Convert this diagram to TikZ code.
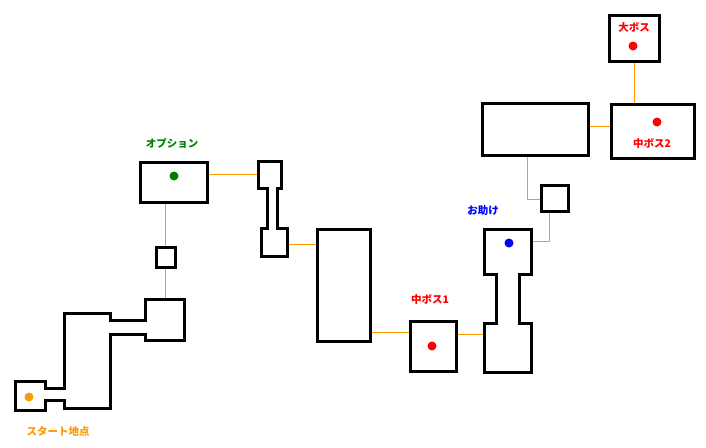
\documentclass[tikz,border=0pt]{standalone}
\usepackage{fontspec}
\setmainfont{Noto Sans CJK JP}
\usetikzlibrary{positioning}

\begin{document}
\begin{tikzpicture}[
  x=1pt, y=-1pt,
  room/.style={draw, line width=3pt},
  path/.style={draw=orange!80!yellow, line width=1pt},
  label/.style={font=\fontsize{10.5pt}{12pt}\selectfont\bfseries, inner sep=0pt},
  spot/.style={circle, fill, inner sep=0pt, minimum size=9pt}
]
    \useasboundingbox (0,0) rectangle (706,447);

    % connectors first
    \draw[path] (207,174) -- (258,174);
    \draw[path] (165,202) -- (165,247);
    \draw[path] (165,267) -- (165,299);
    \draw[path] (287,244) -- (317,244);
    \draw[path] (370,332) -- (410,332);
    \draw[path] (456,334) -- (484,334);
    \draw[path] (531,241) -- (549,241) -- (549,211);
    \draw[path] (541,199) -- (527,199) -- (527,155);
    \draw[path] (588,126) -- (611,126);
    \draw[path] (634,61) -- (634,103);

    % rooms
    \draw[room] (15,381) -- (45,381) -- (45,388) -- (64,388) -- (64,313)
      -- (110,313) -- (110,320) -- (145,320) -- (145,299) -- (184,299)
      -- (184,340) -- (145,340) -- (145,334) -- (110,334) -- (110,408)
      -- (64,408) -- (64,400) -- (45,400) -- (45,410) -- (15,410) -- cycle;
    \draw[room] (140,162) rectangle (207,202);
    \draw[room] (156,247) rectangle (175,267);
    \draw[room] (258,161) -- (281,161) -- (281,188) -- (277,188) -- (277,228)
      -- (287,228) -- (287,256) -- (261,256) -- (261,228) -- (267,228)
      -- (267,188) -- (258,188) -- cycle;
    \draw[room] (317,229) rectangle (370,341);
    \draw[room] (410,321) rectangle (456,371);
    \draw[room] (484,229) -- (531,229) -- (531,274) -- (519,274) -- (519,323)
      -- (531,323) -- (531,372) -- (484,372) -- (484,323) -- (496,323)
      -- (496,274) -- (484,274) -- cycle;
    \draw[room] (541,185) rectangle (568,211);
    \draw[room] (482,103) rectangle (588,155);
    \draw[room] (611,104) rectangle (694,158);
    \draw[room] (609,15) rectangle (659,61);

    % markers
    \node[spot, fill=orange!80!yellow] (start) at (29,397) {};
    \node[label, text=orange!80!yellow] (startlbl) at (58,431) {スタート地点};
    \node[spot, fill=green!50!black] (option) at (174,176) {};
    \node[label, text=green!50!black] (optionlbl) at (172,143) {オプション};
    \node[spot, fill=red] (midboss1) at (432,346) {};
    \node[label, text=red] (midboss1lbl) at (430,300) {中ボス1};
    \node[spot, fill=blue] (helper) at (509,243) {};
    \node[label, text=blue] (helperlbl) at (483,211) {お助け};
    \node[spot, fill=red] (midboss2) at (657,122) {};
    \node[label, text=red] (midboss2lbl) at (652,144) {中ボス2};
    \node[spot, fill=red] (boss) at (633,46) {};
    \node[label, text=red] (bosslbl) at (634,27) {大ボス};
\end{tikzpicture}
\end{document}
